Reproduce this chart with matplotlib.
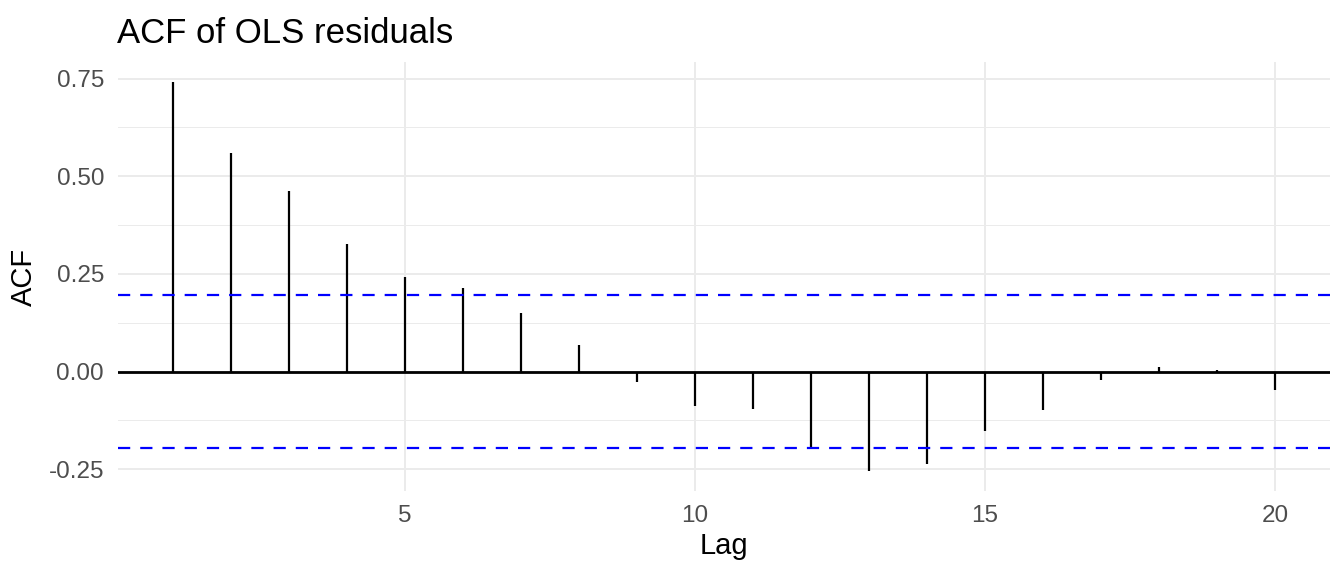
import numpy as np
import matplotlib
matplotlib.use("Agg")
import matplotlib.pyplot as plt

plt.rcParams['font.family'] = ['Liberation Sans', 'DejaVu Sans']

# ACF values
lags = list(range(1, 21))
acf_vals = [0.742, 0.559, 0.463, 0.326, 0.243, 0.215, 0.149, 0.068, -0.026, -0.088,
            -0.095, -0.195, -0.256, -0.236, -0.153, -0.098, -0.021, 0.011, 0.004, -0.048]
conf_bound = 0.196
y_ticks = [-0.25, 0.0, 0.25, 0.5, 0.75]
y_tick_labels = ["-0.25", "0.00", "0.25", "0.50", "0.75"]
x_ticks = [5, 10, 15, 20]

fig = plt.figure(figsize=(13.44, 5.76), dpi=100)
ax = fig.add_axes([0.0878, 0.1476, 0.9018, 0.7444])

# grid, ggplot theme_minimal style
for v in [-0.125, 0.125, 0.375, 0.625]:
    ax.axhline(v, color="#EBEBEB", lw=0.7, zorder=0)
for v in y_ticks:
    ax.axhline(v, color="#EBEBEB", lw=1.4, zorder=0)
for v in x_ticks:
    ax.axvline(v, color="#EBEBEB", lw=1.4, zorder=0)

ax.vlines(lags, 0, acf_vals, color="black", lw=1.6, zorder=3)
ax.axhline(0, color="black", lw=2.0, zorder=3)
for b in (conf_bound, -conf_bound):
    ax.axhline(b, color="#0000FF", lw=1.6, dashes=(5.5, 4.5), zorder=4)

ax.set_xlim(0.05, 20.95)
lo, hi = min(acf_vals), max(acf_vals)
pad = 0.05 * (hi - lo)
ax.set_ylim(lo - pad, hi + pad)

ax.set_xticks(x_ticks)
ax.set_xticklabels([str(t) for t in x_ticks])
ax.set_yticks(y_ticks)
ax.set_yticklabels(y_tick_labels)
ax.tick_params(length=0, labelsize=17.5, labelcolor="#4D4D4D", pad=10)
for s in ax.spines.values():
    s.set_visible(False)

ax.set_xlabel("Lag", fontsize=21, labelpad=4)
ax.set_ylabel("ACF", fontsize=21, labelpad=8)
ax.set_title("ACF of OLS residuals", fontsize=25, loc="left", x=-0.001, pad=14)

fig.savefig("out.png", dpi=100)
